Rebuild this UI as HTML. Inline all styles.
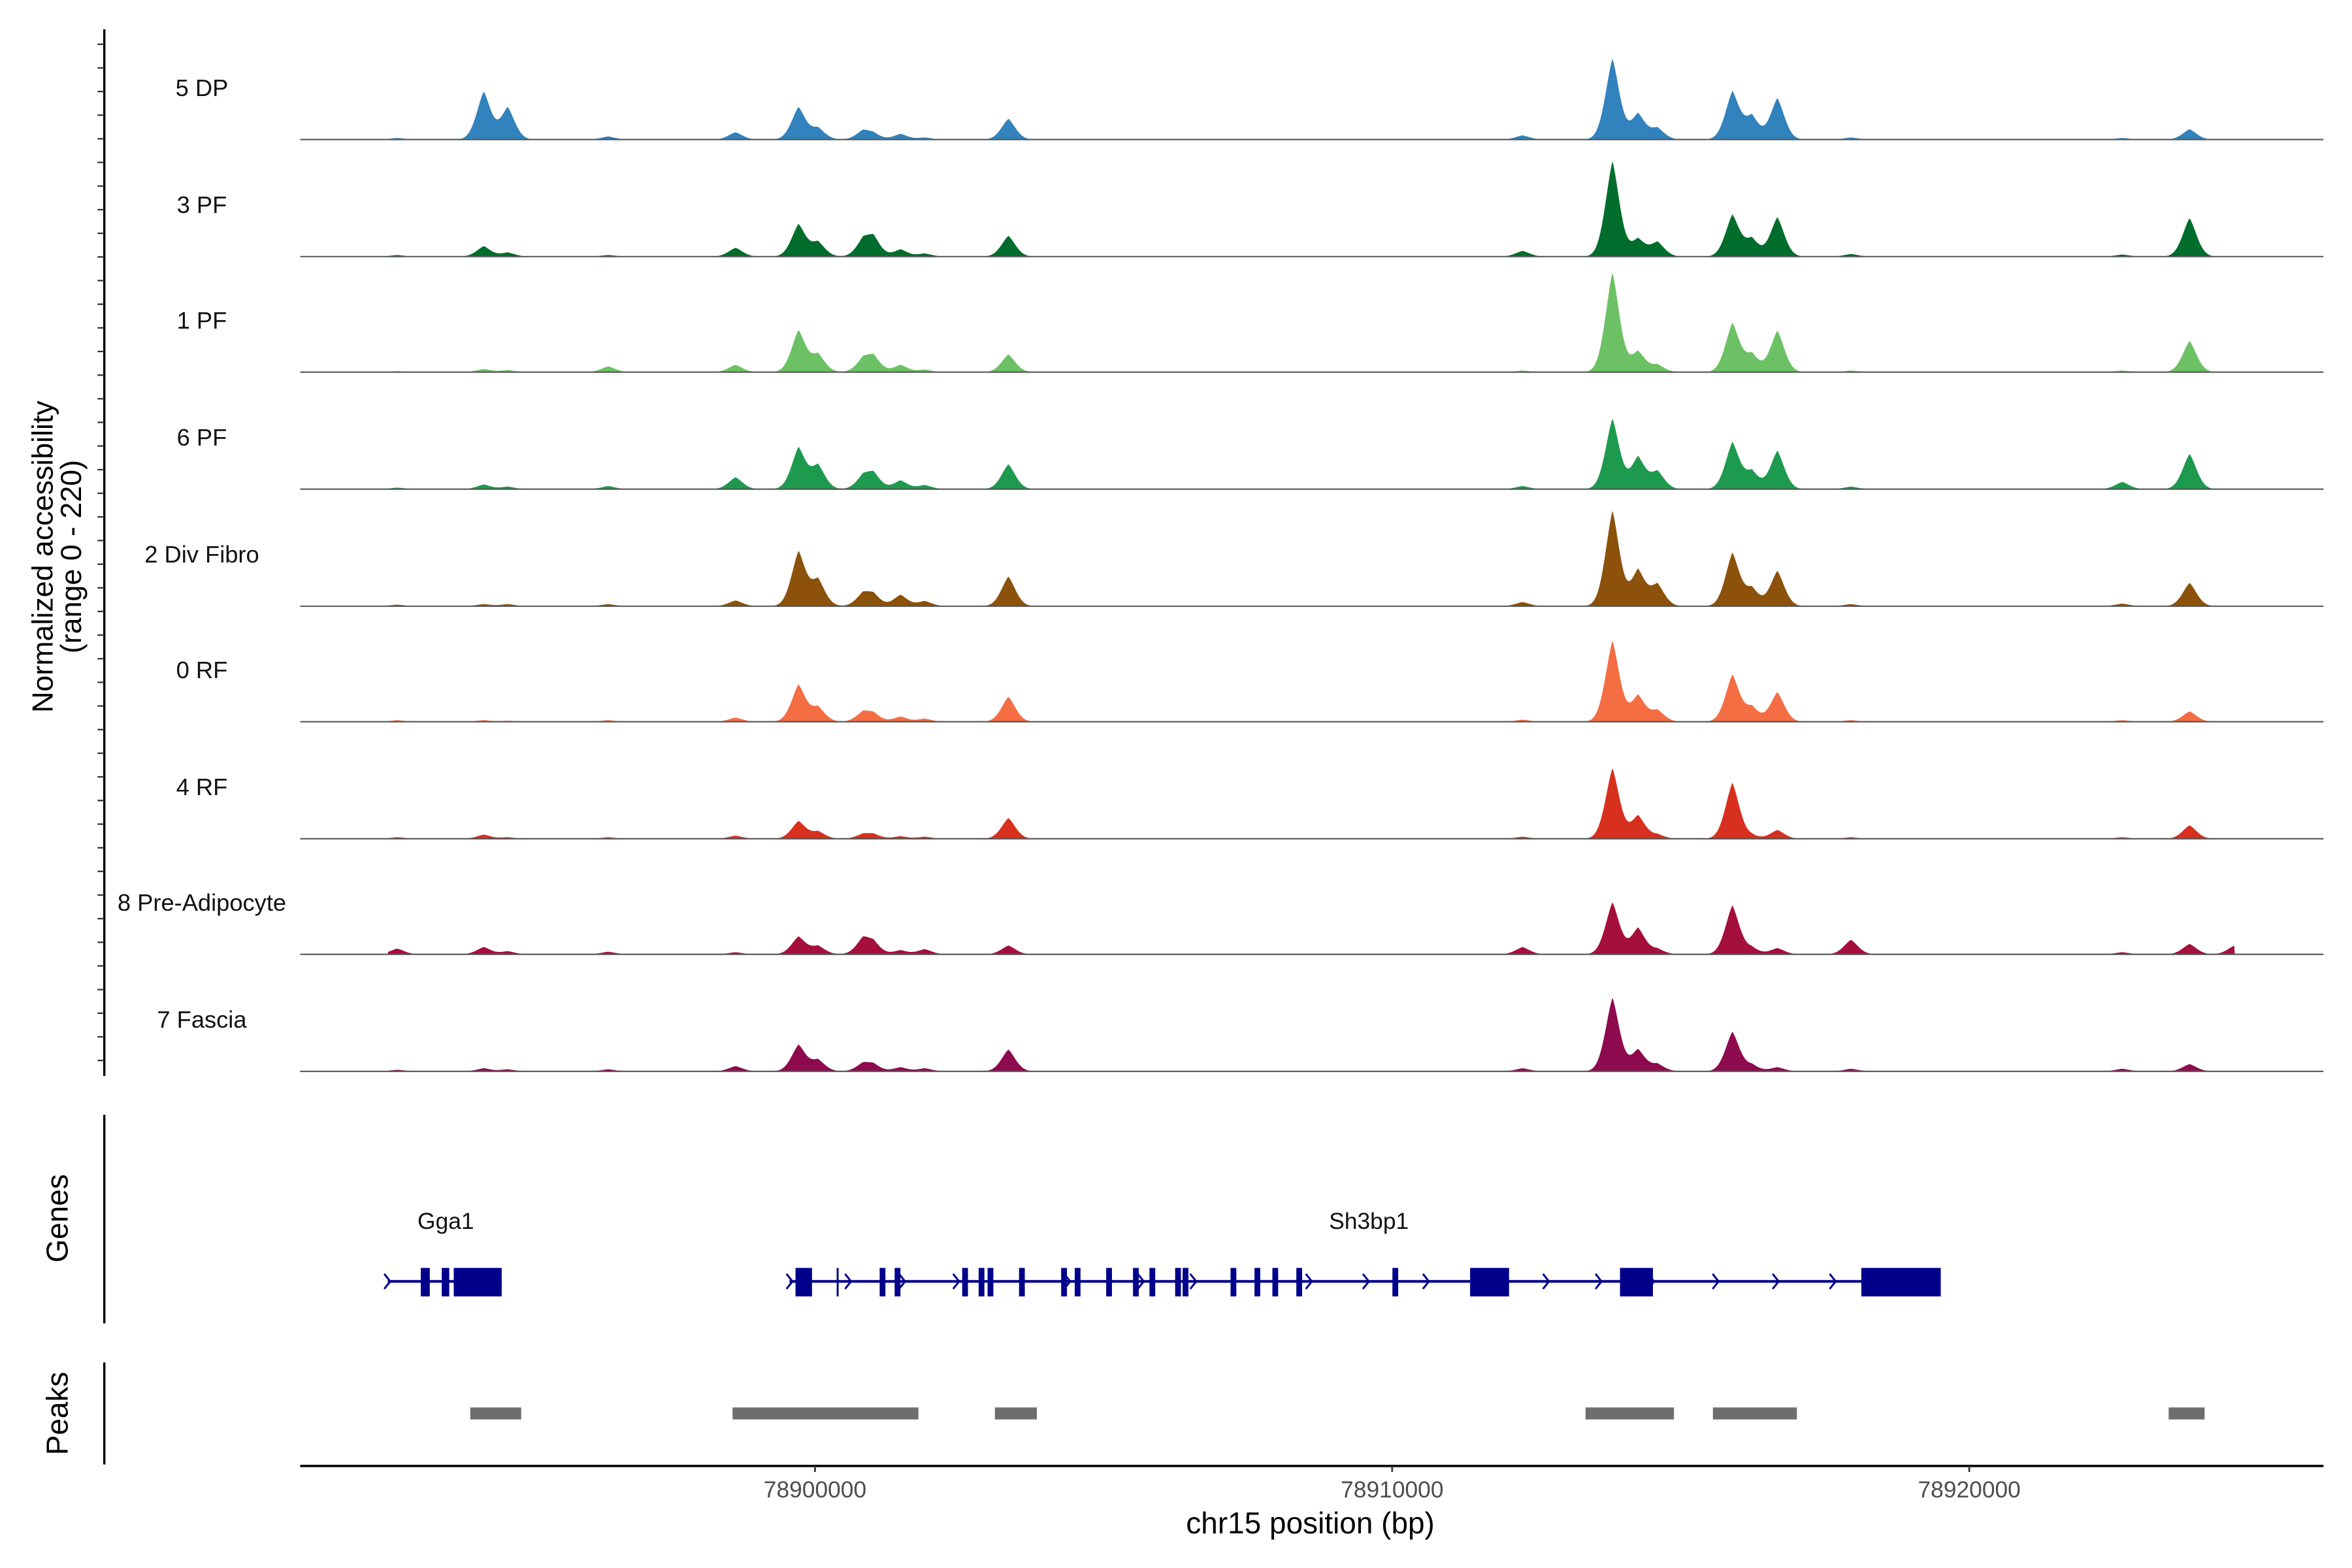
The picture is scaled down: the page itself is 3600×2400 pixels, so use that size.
<!DOCTYPE html>
<html><head><meta charset="utf-8"><style>
html,body{margin:0;padding:0;background:#fff}
svg{display:block}
text{font-family:"Liberation Sans",Arial,sans-serif}
</style></head><body>
<svg id="chart" width="3600" height="2400" viewBox="0 0 1567 1045" preserveAspectRatio="none" xmlns="http://www.w3.org/2000/svg">
<rect width="1567" height="1045" fill="#fff"/>
<g id="tracks"></g>
<g id="genes"></g>
<g id="peaks"></g>
<g id="axes"></g>
</svg>
<script>
const NS="http://www.w3.org/2000/svg";
// ---- data ----
const trackNames=["5 DP","3 PF","1 PF","6 PF","2 Div Fibro","0 RF","4 RF","8 Pre-Adipocyte","7 Fascia"];
const trackColors=["#3182bd","#006d2c","#6cc164","#1d9a4e","#8c510a","#f46d43","#d7301f","#a50f3c","#8e0a4e"];
const peakCenters=[78894260,78894675,78898623,78899714,78900052,78900831,78901013,78901481,78903351,78913818,78914260,78914597,78915896,78916234,78916675,78923818,78896416,78912260,78922650,78892760,78901900,78917950,78924600];
// heights (range 0-220) per track, aligned with peakCenters
const sDP  =[92,62,14,62,22,16,10,11,40,156,50,22,92,45,80,20,6,8,3,3,4,4,0];
const sPF3 =[20,8,17,62,28,28,34,14,40,184,34,28,80,34,76,74,3,11,4,3,6,5,0];
const sPF1 =[6,4,14,80,34,22,28,14,34,192,40,14,94,34,80,60,11,3,3,2,5,3,0];
const sPF6 =[9,5,23,80,46,22,28,17,48,136,62,34,90,34,74,68,6,6,14,3,8,5,0];
const sDiv =[4,4,11,105,51,22,20,22,57,184,70,42,102,34,68,45,4,8,5,3,10,4,0];
const sRF0 =[3,2,8,71,28,17,14,10,48,156,51,22,90,28,57,20,3,4,3,3,6,3,0];
const sRF4 =[8,3,6,34,14,8,8,5,40,136,45,8,108,6,17,26,3,4,3,3,4,3,0];
const sPre =[14,6,4,34,16,28,20,8,17,100,51,10,94,12,12,20,5,14,4,11,10,28,17];
const sFas =[6,4,10,51,22,14,12,8,42,142,42,14,76,12,8,14,4,6,5,3,6,5,0];
const trackSeries=[sDP,sPF3,sPF1,sPF6,sDiv,sRF0,sRF4,sPre,sFas];
const xTicks=[78900000,78910000,78920000];
const geneNames=["Gga1","Sh3bp1"];
const geneStarts=[78892597,78899558];
const geneEnds=[78894571,78919506];
const exonStarts=[78893169,78893532,78893740,78899662,78900375,78901120,78901380,78902550,78902835,78902990,78903535,78904265,78904500,78905045,78905510,78905795,78906240,78906370,78907200,78907615,78907925,78908340,78910005,78911351,78913948,78918130];
const exonEnds  =[78893325,78893662,78894571,78899948,78900405,78901220,78901480,78902650,78902935,78903090,78903635,78904365,78904600,78905145,78905610,78905895,78906340,78906470,78907300,78907715,78908025,78908440,78910105,78912026,78914519,78919506];
const peakStarts=[78894026,78898571,78903117,78913351,78915558,78923455];
const peakEnds  =[78894909,78901792,78903844,78914883,78917013,78924078];
// ---- scales ----
const X0=78900000, PX0=543, PPB=0.03845;
function xs(bp){return PX0+(bp-X0)*PPB;}
const baseY=[93,171,248,326,404,481,559,636,714];
const TH=76, YMAX=220;
function ys(i,v){return baseY[i]-Math.min(v,YMAX)/YMAX*TH;}
function mk(tag,attrs,parent){const e=document.createElementNS(NS,tag);for(const k in attrs)e.setAttribute(k,attrs[k]);parent.appendChild(e);return e;}
const gT=document.getElementById('tracks');
const startBp=78892600, endBp=78924600;
trackSeries.forEach((ser,i)=>{
  const g=mk('g',{},gT);
  
  
  let d='M'+xs(startBp)+','+baseY[i];
  for(let bp=startBp;bp<=endBp;bp+=13){
    let v=0;
    for(let k=0;k<peakCenters.length;k++){
      const dd=(bp-peakCenters[k])/150;
      v+=ser[k]*Math.exp(-Math.abs(dd)*0.35-dd*dd*0.45);
    }
    d+='L'+xs(bp).toFixed(2)+','+ys(i,v).toFixed(2);
  }
  d+='L'+xs(endBp)+','+baseY[i]+'Z';
  const p=mk('path',{d:d,fill:trackColors[i],stroke:'none'},g);
  
  
  const bl=mk('line',{x1:200,x2:1548,y1:baseY[i],y2:baseY[i],stroke:'#555','stroke-width':0.9},g);
  
  
  const t=mk('text',{x:134.5,y:baseY[i]-29,'text-anchor':'middle','font-size':15.8,fill:'#111'},g);
  t.textContent=trackNames[i];
  
  
});
// genes
const gG=document.getElementById('genes');
const GY=854;
geneNames.forEach((n,i)=>{
  const l=mk('line',{x1:xs(geneStarts[i]),x2:xs(geneEnds[i]),y1:GY,y2:GY,stroke:'#00008b','stroke-width':1.8},gG);
  
  
  const t=mk('text',{x:(i==0?297:912),y:819,'text-anchor':'middle','font-size':15.4,fill:'#111'},gG);
  t.textContent=n;
  
  
});
exonStarts.forEach((s,i)=>{
  const w=Math.max(xs(exonEnds[i])-xs(s),1.3);
  const r=mk('rect',{x:xs(s),y:845,width:w,height:19,fill:'#00008b'},gG);
  
  
});
const chevPx=[258,526,565,601,637,711,760,795,872,910,950,1030,1065,1100,1143,1183,1221];
chevPx.forEach(x=>{
  const c=mk('path',{d:`M${x-2},${GY-5}L${x+2},${GY}L${x-2},${GY+5}`,fill:'none',stroke:'#00008b','stroke-width':1.3},gG);
  
  
});
// peaks
const gP=document.getElementById('peaks');
peakStarts.forEach((s,i)=>{
  const r=mk('rect',{x:xs(s),y:938,width:xs(peakEnds[i])-xs(s),height:8,fill:'#6e6e6e'},gP);
  
  
});
// axes
const gA=document.getElementById('axes');
function ln(a,name){const e=mk('line',a,gA);return e;}
ln({x1:69.5,x2:69.5,y1:19.5,y2:717,stroke:'#000','stroke-width':1.5},'y-axis-line');
for(let y=29.5;y<=717;y+=15.75){ln({x1:65,x2:69.5,y1:y,y2:y,stroke:'#333','stroke-width':1},'y-tick');}
ln({x1:69.5,x2:69.5,y1:743,y2:882,stroke:'#000','stroke-width':1.5},'genes-axis-line');
ln({x1:69.5,x2:69.5,y1:908,y2:976,stroke:'#000','stroke-width':1.5},'peaks-axis-line');
ln({x1:200,x2:1548,y1:977,y2:977,stroke:'#000','stroke-width':1.6},'x-axis-line');
xTicks.forEach(t=>{
  const x=xs(t);
  ln({x1:x,x2:x,y1:977,y2:981,stroke:'#333','stroke-width':1.2},'x-tick');
  const tx=mk('text',{x:x,y:998,'text-anchor':'middle','font-size':15.4,fill:'#4d4d4d'},gA);
  tx.textContent=String(t);
  
  
});
function tt(txt,a,name){const e=mk('text',a,gA);e.textContent=txt;return e;}
tt('chr15 position (bp)',{x:873,y:1022,'text-anchor':'middle','font-size':20,fill:'#000'},'x-axis-title');
const yt=mk('text',{transform:'translate(35,371) rotate(-90)','text-anchor':'middle','font-size':19.5,fill:'#000'},gA);


const ts1=mk('tspan',{x:0,dy:0},yt);ts1.textContent='Normalized accessibility';
const ts2=mk('tspan',{x:0,dy:19},yt);ts2.textContent='(range 0 - 220)';
tt('Genes',{transform:'translate(45,812) rotate(-90)','text-anchor':'middle','font-size':20,fill:'#000'},'genes-axis-title');
tt('Peaks',{transform:'translate(45,942) rotate(-90)','text-anchor':'middle','font-size':20,fill:'#000'},'peaks-axis-title');
</script>
</body></html>
